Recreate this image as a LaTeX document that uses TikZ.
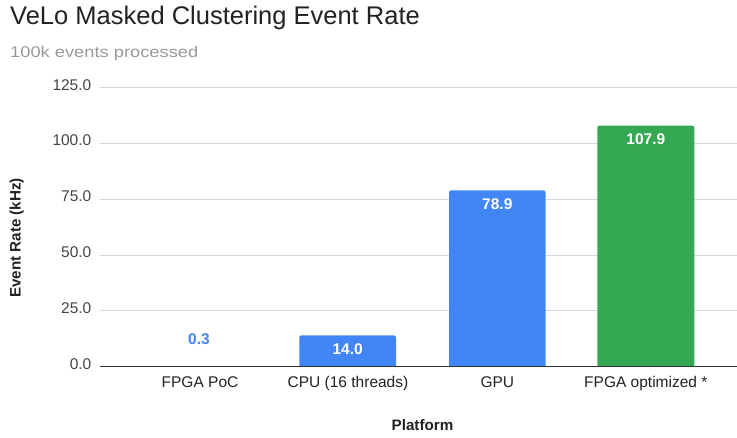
\documentclass[tikz,border=0pt]{standalone}
\usepackage{fontspec}
\setmainfont{Liberation Sans}
\newfontfamily\subfont[FakeStretch=1.18]{Liberation Sans}
\definecolor{gblue}{HTML}{4285F4}
\definecolor{ggreen}{HTML}{34A853}
\definecolor{gridc}{HTML}{D9D9D9}
\definecolor{axisc}{HTML}{333333}
\definecolor{tickc}{HTML}{444444}
\definecolor{subc}{HTML}{999999}
\definecolor{txtc}{HTML}{222222}
\begin{document}
\begin{tikzpicture}[x=1pt,y=-1pt,
  gridline/.style={draw=gridc,line width=1pt},
  ticklab/.style={anchor=mid east,text=tickc,font=\fontsize{15.5}{15.5}\selectfont,inner sep=0pt},
  catlab/.style={anchor=mid,text=txtc,font=\fontsize{15.5}{15.5}\selectfont,inner sep=0pt},
  vallab/.style={anchor=mid,text=white,font=\bfseries\fontsize{15.5}{15.5}\selectfont,inner sep=0pt},
  axtitle/.style={anchor=mid,inner sep=0pt,font=\bfseries\fontsize{15.2}{15.2}\selectfont,text=txtc}]
\useasboundingbox (0,0) rectangle (737,438);
\fill[white] (0,0) rectangle (737,438);
% title
\node[anchor=base west,inner sep=0pt,font=\fontsize{25.5}{26}\selectfont,text=txtc] (title) at (10,25) {VeLo Masked Clustering Event Rate};
\node[anchor=base west,inner sep=0pt,font=\subfont\fontsize{15.5}{15.5}\selectfont,text=subc] (sub) at (10,57.3) {100k events processed};
% grid
\foreach \v/\lab in {25/25.0,50/50.0,75/75.0,100/100.0,125/125.0}{
  \draw[gridline] (100,{366.7-\v*2.2336}) -- (737,{366.7-\v*2.2336});
  \node[ticklab] (t\v) at (91.5,{366.7-\v*2.2336}) {\lab};
}
\node[ticklab] (t0) at (91.5,366.7) {0.0};
% bars
\fill[gblue] (150,366.7) rectangle (247,{366.7-0.3*2.2336});
\fill[gblue] (299.3,366.7) [rounded corners=2pt] -- (299.3,335.4) -- (396,335.4) [sharp corners] -- (396,366.7) -- cycle;
\fill[gblue] (449,366.7) [rounded corners=2pt] -- (449,190.5) -- (545.7,190.5) [sharp corners] -- (545.7,366.7) -- cycle;
\fill[ggreen] (597.3,366.7) [rounded corners=2pt] -- (597.3,125.7) -- (694.3,125.7) [sharp corners] -- (694.3,366.7) -- cycle;
% axis
\draw[axisc,line width=1pt] (100,366.7) -- (737,366.7);
% value labels
\node[vallab,text=gblue] (v1) at (199,341.7) {0.3};
\node[vallab] (v2) at (347.7,352) {14.0};
\node[vallab] (v3) at (497.3,207) {78.9};
\node[vallab] (v4) at (645.8,142) {107.9};
% category labels
\node[catlab] (c1) at (200,385) {FPGA PoC};
\node[catlab] (c2) at (348,385) {CPU (16 threads)};
\node[catlab] (c3) at (497.3,385) {GPU};
\node[catlab] (c4) at (645.8,385) {FPGA optimized *};
% axis titles
\node[axtitle] (xt) at (422.5,428) {Platform};
\node[axtitle,rotate=90] (yt) at (18,238) {Event Rate (kHz)};
\end{tikzpicture}
\end{document}
